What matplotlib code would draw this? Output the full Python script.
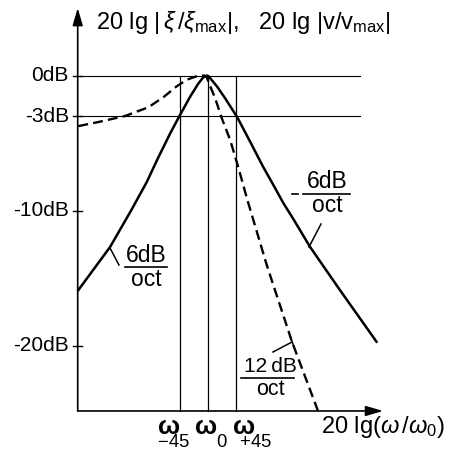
import matplotlib
matplotlib.use('Agg')
import matplotlib.pyplot as plt

plt.rcParams['font.family'] = ['Liberation Sans', 'DejaVu Sans']
plt.rcParams['mathtext.fontset'] = 'custom'
plt.rcParams['mathtext.rm'] = 'Liberation Sans'
plt.rcParams['mathtext.it'] = 'Liberation Sans:italic'
plt.rcParams['mathtext.bf'] = 'Liberation Sans:bold'

# Daten (x in Oktaven relativ zu omega_0, y in dB)
vel_oct = [-2.17, -1.64, -1.29, -1.03, -0.84, -0.64, -0.49, -0.31, -0.17, -0.09, -0.03,
           0.0, 0.14, 0.275, 0.48, 0.69, 0.91, 1.08, 1.25, 1.41, 1.69, 2.19, 2.80]
vel_db = [-15.9, -12.7, -10.0, -7.9, -6.1, -4.3, -3.05, -1.6, -0.6, -0.15, 0.0,
          -0.05, -0.8, -1.67, -3.1, -4.87, -6.76, -8.1, -9.47, -10.6, -12.68, -15.89, -19.72]

disp_oct = [-2.17, -1.84, -1.39, -1.00, -0.75, -0.53, -0.36, -0.20, -0.08, -0.03,
            0.0, 0.11, 0.22, 0.36, 0.50, 0.64, 0.975, 1.16, 1.39, 1.825]
disp_db = [-3.75, -3.45, -3.0, -2.35, -1.6, -0.8, -0.31, -0.06, 0.0, -0.1,
           -0.5, -1.67, -3.15, -4.76, -6.85, -9.1, -14.1, -16.6, -19.7, -24.85]

ytick_db = [0, -3, -10, -20]
ytick_labels = ['0dB', '-3dB', '-10dB', '-20dB']
omega_oct = [-0.48, 0.0, 0.46]   # omega_-45, omega_0, omega_+45
# zweite Zeile = tiefgestellter Index
omega_labels = ['$\\mathbf{\\omega}$\n$_{-45}$',
                '$\\mathbf{\\omega}$\n   $_{0}$',
                '$\\mathbf{\\omega}$\n $_{+45}$']

# Achsen-Lage
X0 = -2.18      # y-Achse
Y0 = -24.85     # x-Achse
X_END = 2.91
Y_END = 5.0
X_HLINE = 2.525

# Pixel -> Daten (fuer Textpositionen)
def at(px, py):
    return (px - 208.5) / 60.0, -(py - 75.5) / 13.5

fig = plt.figure(figsize=(4.49, 4.51), dpi=100)
ax = fig.add_axes([0, 0, 1, 1])
x_lo, y_top = at(0, 0)
x_hi, y_bot = at(449, 451)
ax.set_xlim(x_lo, x_hi)
ax.set_ylim(y_bot, y_top)
ax.axis('off')

k = 'black'
# Achsen mit Pfeilen
arrow = dict(arrowstyle='-|>,head_length=0.75,head_width=0.22', lw=1.2, color=k,
             shrinkA=0, shrinkB=0, mutation_scale=14)
ax.annotate('', xy=(X0, Y_END), xytext=(X0, Y0), arrowprops=arrow)
ax.annotate('', xy=(X_END, Y0), xytext=(X0, Y0), arrowprops=arrow)

# Hilfslinien
for d in [0, -3]:
    ax.plot([X0, X_HLINE], [d, d], color=k, lw=0.8)
for xo in omega_oct:
    ax.plot([xo, xo], [Y0, 0], color=k, lw=0.9)

# y-Ticks
for d, lab in zip(ytick_db, ytick_labels):
    ax.plot([X0 - 0.075, X0 + 0.075], [d, d], color=k, lw=1.0)
    ax.text(at(69, 0)[0], d, lab, ha='right', va='center', fontsize=15)

# Kurven
ax.plot(vel_oct, vel_db, color=k, lw=1.8, solid_joinstyle='round')
ax.plot(disp_oct, disp_db, color=k, lw=1.7, dashes=(4.2, 2.2))

# Achsenbeschriftungen
ax.text(*at(96, 23), r'20 lg $|\,\xi\,/\xi_{\mathrm{max}}|$,   20 lg $|$v/v$_{\mathrm{max}}|$',
        ha='left', va='center', fontsize=17)
ax.text(*at(321, 433), r'20 lg$(\omega\,/\omega_0)$', ha='left', va='baseline', fontsize=17)

# omega-Beschriftungen (va='baseline' richtet sich nach der letzten Zeile)
om_px = [157, 194, 232]
for p_om, lab in zip(om_px, omega_labels):
    ax.text(*at(p_om, 443.5), lab, ha='left', va='baseline', fontsize=19,
            multialignment='left', linespacing=0.25)

# Steigungsangaben
def frac(cx, y_num, y_line, y_den, top, w, minus_px=None, fs=16.5, fs_top=None):
    ax.text(*at(cx, y_num), top, ha='center', va='center', fontsize=fs_top or fs)
    ax.text(*at(cx, y_den), 'oct', ha='center', va='center', fontsize=fs)
    xa, yl = at(cx - w / 2, y_line)
    xb, _ = at(cx + w / 2, y_line)
    ax.plot([xa, xb], [yl, yl], color=k, lw=1.2)
    if minus_px is not None:
        xm1, ym = at(minus_px[0], y_line)
        xm2, _ = at(minus_px[1], y_line)
        ax.plot([xm1, xm2], [ym, ym], color=k, lw=1.2)

frac(146, 255, 267, 280, '6dB', 42)
frac(327, 181, 194, 206, '6dB', 47, minus_px=(292, 298))
frac(270, 367, 378, 389, '12\u2009dB', 47, minus_px=(241, 245), fs=15.5, fs_top=15)

# Hinweislinien
def lead(p1, p2):
    a = at(*p1)
    b = at(*p2)
    ax.plot([a[0], b[0]], [a[1], b[1]], color=k, lw=1.1)

lead((110, 248), (119, 265))
lead((321, 224), (309, 247))
lead((273, 352), (292, 342))
lead((290, 336), (294, 347))

fig.savefig('out.png', dpi=100)
